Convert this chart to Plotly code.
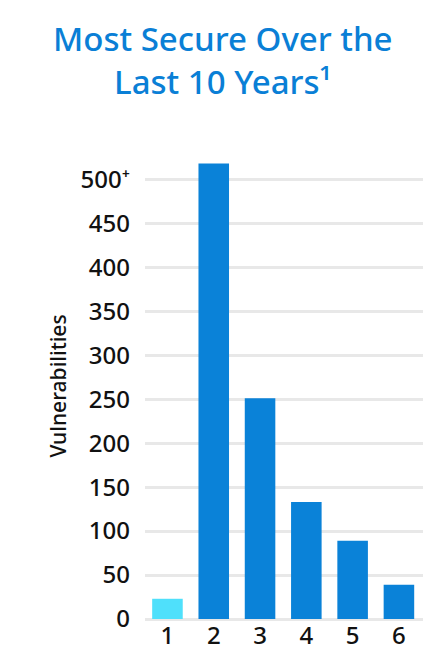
import plotly.graph_objects as go

categories = [1, 2, 3, 4, 5, 6]
values = [23, 518, 251, 133, 89, 39]
colors = ["#4fe0fb", "#0a82d8", "#0a82d8", "#0a82d8", "#0a82d8", "#0a82d8"]
tick_vals = [0, 50, 100, 150, 200, 250, 300, 350, 400, 450, 500]
tick_text = ["0", "50", "100", "150", "200", "250", "300", "350", "400", "450", "500⁺"]

fig = go.Figure(go.Bar(x=categories, y=values, marker=dict(color=colors, line=dict(width=0)), width=0.66))
fig.update_layout(
    width=431, height=650,
    margin=dict(l=137, r=16, t=145, b=39, autoexpand=False),
    plot_bgcolor="white", paper_bgcolor="white",
    font=dict(family="Noto Sans", color="#111", weight=500),
    showlegend=False,
)
fig.add_annotation(text="Most Secure Over the<br>Last 10 Years¹", xref="paper", yref="paper",
                   x=(215 - 137) / 278, y=1 + (145 - 6) / 466, xanchor="center", yanchor="top",
                   showarrow=False, font=dict(size=33, color="#0a7fd6", weight=500), align="center")
fig.update_xaxes(range=[0.515, 6.52], tickvals=categories, ticktext=[str(c) for c in categories],
                 tickfont=dict(size=24, color="#111", weight=500), showgrid=False, showline=False,
                 ticks="", automargin=False)
fig.update_yaxes(range=[0, 530], tickvals=tick_vals, ticktext=tick_text,
                 tickfont=dict(size=24, color="#111", weight=500),
                 gridcolor="#e8e8e8", gridwidth=3, zeroline=True, zerolinecolor="#e8e8e8", zerolinewidth=3,
                 ticks="", ticklabelstandoff=14, automargin=False,
                 title=dict(text="Vulnerabilities", font=dict(size=21, color="#111", weight=500), standoff=8))
fig.write_html("out.html")
